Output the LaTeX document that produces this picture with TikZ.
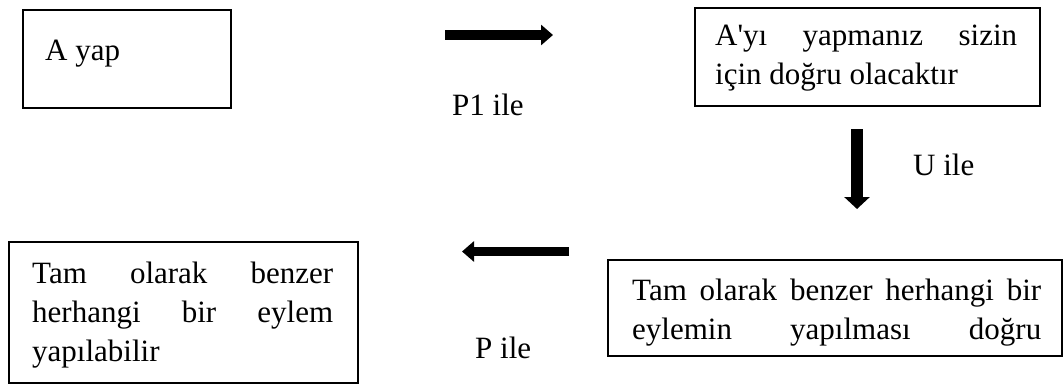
\documentclass[tikz,border=0pt]{standalone}
\usepackage{fontspec}
\setmainfont{Liberation Serif}
\newfontfamily\rawfont{Liberation Serif}
\usetikzlibrary{arrows.meta}
\newcommand{\jline}[2]{\makebox[#1][s]{\spaceskip=0pt\xspaceskip=0pt #2}}
\tikzset{
  boxnode/.style={draw=black, line width=2pt, inner sep=0pt, fill=none},
  txtnode/.style={inner sep=0pt, anchor=base west, font=\fontsize{31}{39}\selectfont, align=justify},
}
\begin{document}
\begin{tikzpicture}[x=1pt,y=-1pt]
\useasboundingbox (0,0) rectangle (1063,383);
% boxes
\node[boxnode, minimum width=208pt, minimum height=98pt] (b1) at (127,59) {};
\node[boxnode, minimum width=345pt, minimum height=98pt] (b2) at (867.5,57) {};
\node[boxnode, minimum width=349pt, minimum height=141pt] (b3) at (183.5,312.5) {};
\node[boxnode, minimum width=454pt, minimum height=96pt] (b4) at (835,308) {};
% texts
\node[txtnode] (t1) at (45,60) {A yap};
\node[txtnode, text width=302pt] (t2) at (715,45) {\jline{302pt}{A{\rawfont'}yı yapmanız sizin}\\için doğru olacaktır};
\node[txtnode, text width=301pt] (t3) at (32,283) {\jline{301pt}{Tam olarak benzer}\\\jline{301pt}{herhangi bir eylem}\\yapılabilir};
\node[txtnode, text width=409pt] (t4) at (632,300) {\jline{409pt}{Tam olarak benzer herhangi bir}\\\jline{409pt}{eylemin yapılması doğru}};
% labels
\node[txtnode] (l1) at (452,115) {P1 ile};
\node[txtnode] (l2) at (913,175) {U ile};
\node[txtnode] (l3) at (475,358) {P ile};
% arrows
\coordinate (a1s) at (445,35);
\coordinate (a1e) at (553,35);
\coordinate (a2s) at (857,129);
\coordinate (a2e) at (857,209);
\coordinate (a3s) at (569,251.5);
\coordinate (a3e) at (462,251.5);
\draw[line width=10pt, -{Triangle[length=12pt,width=20pt]}] (a1s) -- (a1e);
\draw[line width=12pt, -{Triangle[length=12pt,width=25pt]}] (a2s) -- (a2e);
\draw[line width=9pt, -{Triangle[length=12pt,width=20pt]}] (a3s) -- (a3e);
\end{tikzpicture}
\end{document}
